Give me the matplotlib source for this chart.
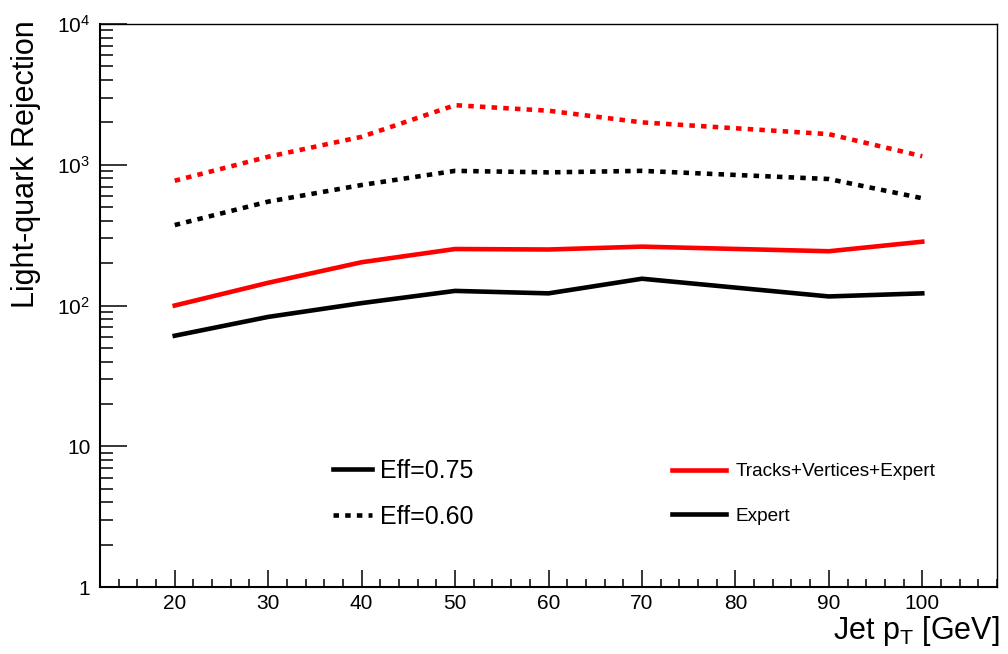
import matplotlib
matplotlib.use('Agg')
import matplotlib.pyplot as plt
from matplotlib.lines import Line2D
from matplotlib.ticker import FixedLocator, FixedFormatter, LogLocator, MultipleLocator

# Jet pT bins and light-quark rejection for each tagger / working point.
JetPt = [20, 30, 40, 50, 60, 70, 90, 100]
TVE_Eff60 = [770, 1140, 1580, 2650, 2420, 2000, 1650, 1150]
Expert_Eff60 = [373, 547, 718, 905, 883, 905, 792, 578]
TVE_Eff75 = [100, 145, 203, 252, 250, 262, 243, 284]
Expert_Eff75 = [61, 83, 104, 127, 122, 155, 116, 122]

YTicks = [1, 10, 100, 1000, 10000]
YTickLabels = ['1', '10', '$10^{2}$', '$10^{3}$', '$10^{4}$']
XTicks = [20, 30, 40, 50, 60, 70, 80, 90, 100]

# Plot properties.
plt.rcParams['font.family'] = ['Liberation Sans', 'DejaVu Sans']
plt.rcParams['mathtext.fontset'] = 'custom'
plt.rcParams['mathtext.rm'] = 'Liberation Sans'
plt.rcParams['mathtext.it'] = 'Liberation Sans'
LineWidth = 3.3
Dotted = (0, (1.2, 1.35))
Red = '#ff0000'

fig = plt.figure(figsize=(10.08, 6.54), dpi=100)
ax = fig.add_axes([0.0992, 0.1024, 0.8899, 0.8609])

# We plot.
ax.plot(JetPt, TVE_Eff60, c=Red, lw=LineWidth, ls=Dotted, dash_capstyle='butt')
ax.plot(JetPt, Expert_Eff60, c='black', lw=LineWidth, ls=Dotted, dash_capstyle='butt')
ax.plot(JetPt, TVE_Eff75, c=Red, lw=LineWidth)
ax.plot(JetPt, Expert_Eff75, c='black', lw=LineWidth)

# We configure the axes.
ax.set_yscale('log')
ax.set_xlim(12, 108)
ax.set_ylim(1, 1e4)
ax.xaxis.set_major_locator(FixedLocator(XTicks))
ax.xaxis.set_minor_locator(MultipleLocator(2))
ax.yaxis.set_major_locator(FixedLocator(YTicks))
ax.yaxis.set_major_formatter(FixedFormatter(YTickLabels))
ax.yaxis.set_minor_locator(LogLocator(base=10, subs=range(2, 10)))
ax.yaxis.set_minor_formatter(FixedFormatter([]))
ax.tick_params(axis='x', which='major', direction='in', length=12, width=1.1, labelsize=15, pad=5)
ax.tick_params(axis='x', which='minor', direction='in', length=6, width=1.1)
ax.tick_params(axis='y', which='major', direction='in', length=19.5, width=1.1, labelsize=15, pad=7)
ax.tick_params(axis='y', which='minor', direction='in', length=9.5, width=1.1)
ax.tick_params(top=False, right=False, which='both')
ax.spines['left'].set_linewidth(1.5)
ax.spines['bottom'].set_linewidth(1.5)
ax.spines['top'].set_linewidth(1.0)
ax.spines['right'].set_linewidth(1.0)

ax.set_xlabel('Jet p$_\\mathrm{T}$ [GeV]', fontsize=22, ha='right', va='top')
ax.xaxis.set_label_coords(1.003, -0.048)
ax.set_ylabel('Light-quark Rejection', fontsize=22, ha='right', va='bottom')
ax.yaxis.set_label_coords(-0.066, 1.007)

# We add the two legends.
EffHandles = [Line2D([], [], c='black', lw=LineWidth),
              Line2D([], [], c='black', lw=LineWidth, ls=Dotted, dash_capstyle='butt')]
EffLabels = ['Eff=0.75', 'Eff=0.60']
TagHandles = [Line2D([], [], c=Red, lw=LineWidth),
              Line2D([], [], c='black', lw=LineWidth)]
TagLabels = ['Tracks+Vertices+Expert', 'Expert']

Leg1 = fig.legend(EffHandles, EffLabels, loc='center left', bbox_to_anchor=(0.330, 0.2447),
                  frameon=False, fontsize=18, handlelength=1.56, handletextpad=0.32,
                  labelspacing=0.86, borderpad=0, borderaxespad=0)
Leg2 = fig.legend(TagHandles, TagLabels, loc='center left', bbox_to_anchor=(0.667, 0.2447),
                  frameon=False, fontsize=13.7, handlelength=2.8, handletextpad=0.52,
                  labelspacing=1.45, borderpad=0, borderaxespad=0)

fig.savefig('out.png', dpi=100)
